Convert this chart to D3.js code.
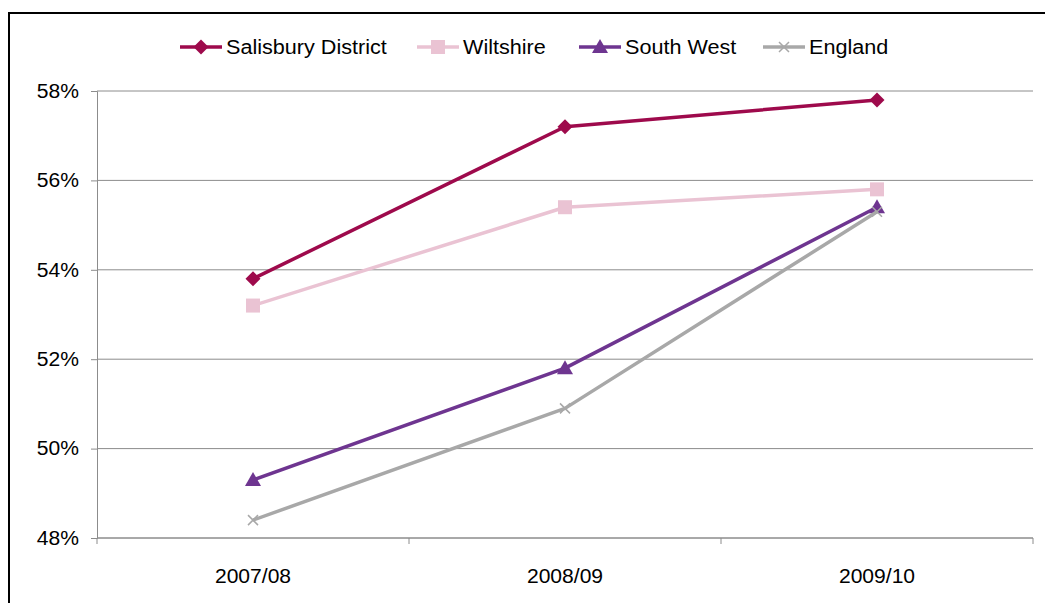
<!DOCTYPE html>
<html>
<head>
<meta charset="utf-8">
<script src="https://cdn.jsdelivr.net/npm/d3@7"></script>
<style>
  html, body { margin: 0; padding: 0; background: #fff; }
  svg { display: block; font-family: "Liberation Sans", Arial, sans-serif; }
</style>
</head>
<body>
<svg id="chart" width="1045" height="603"></svg>
<script>
// Share of residents, by year
const years = ["2007/08", "2008/09", "2009/10"];
const salisbury = [53.8, 57.2, 57.8];
const wiltshire = [53.2, 55.4, 55.8];
const southWest = [49.3, 51.8, 55.4];
const england = [48.4, 50.9, 55.3];
const yTicks = [48, 50, 52, 54, 56, 58];

const series = [
  { name: "Salisbury District", values: salisbury, color: "#9E0A4C", marker: "diamond" },
  { name: "Wiltshire", values: wiltshire, color: "#EAC3D3", marker: "square" },
  { name: "South West", values: southWest, color: "#6E3590", marker: "triangle" },
  { name: "England", values: england, color: "#A8A8A8", marker: "cross" }
];

const svg = d3.select("#chart");
const TEXT_STRETCH = 1.08;
const FONT_SIZE = 19.5;

// outer frame
svg.append("rect")
  .attr("x", 9).attr("y", 13).attr("width", 1045).attr("height", 603)
  .attr("fill", "none").attr("stroke", "#000").attr("stroke-width", 2);

const plot = { left: 97, right: 1033, top: 91, bottom: 538 };

const x = d3.scaleBand().domain(years).range([plot.left, plot.right]).padding(0);
const y = d3.scaleLinear().domain([48, 58]).range([plot.bottom, plot.top]);

// horizontal gridlines
svg.append("g")
  .selectAll("line")
  .data(yTicks)
  .join("line")
  .attr("x1", plot.left).attr("x2", plot.right)
  .attr("y1", d => y(d)).attr("y2", d => y(d))
  .attr("stroke", "#8c8c8c").attr("stroke-width", 1);

// y axis
const yAxis = svg.append("g")
  .attr("transform", `translate(${plot.left},0)`)
  .call(d3.axisLeft(y).tickValues(yTicks).tickFormat(d => d + "%").tickSize(6).tickPadding(12));
yAxis.select(".domain").attr("stroke", "#8c8c8c");
yAxis.selectAll(".tick line").attr("stroke", "#8c8c8c");
yAxis.selectAll(".tick text")
  .attr("font-size", FONT_SIZE).attr("fill", "#000")
  .attr("font-family", "Liberation Sans, Arial, sans-serif");

// x axis
const xAxis = svg.append("g")
  .attr("transform", `translate(0,${plot.bottom})`)
  .call(d3.axisBottom(x).tickSize(0).tickPadding(31));
xAxis.select(".domain").attr("stroke", "#8c8c8c").attr("d", `M${plot.left},0H${plot.right}`);
xAxis.selectAll(".tick text")
  .attr("font-size", FONT_SIZE).attr("fill", "#000")
  .attr("font-family", "Liberation Sans, Arial, sans-serif");
// category boundary ticks
svg.append("g")
  .selectAll("line")
  .data(years.map(d => x(d)).concat([x(years[years.length - 1]) + x.bandwidth()]))
  .join("line")
  .attr("x1", d => d).attr("x2", d => d)
  .attr("y1", plot.bottom).attr("y2", plot.bottom + 6)
  .attr("stroke", "#8c8c8c");

const cx = d => x(d) + x.bandwidth() / 2;

function drawMarker(g, type, color) {
  if (type === "diamond") {
    g.append("path").attr("d", "M0,-7.5L7.5,0L0,7.5L-7.5,0Z").attr("fill", color);
  } else if (type === "square") {
    g.append("rect").attr("x", -7).attr("y", -7).attr("width", 14).attr("height", 14).attr("fill", color);
  } else if (type === "triangle") {
    g.append("path").attr("d", "M0,-8L8,6L-8,6Z").attr("fill", color);
  } else {
    g.append("path").attr("d", "M-5,-5L5,5M-5,5L5,-5").attr("stroke", color).attr("stroke-width", 1.5).attr("fill", "none");
  }
}

const line = d3.line().x(d => cx(d.year)).y(d => y(d.value));

series.forEach(s => {
  const pts = s.values.map((v, i) => ({ year: years[i], value: v }));
  const g = svg.append("g");
  g.append("path").datum(pts)
    .attr("d", line)
    .attr("fill", "none").attr("stroke", s.color).attr("stroke-width", 3.5)
    .attr("stroke-linejoin", "round");
  pts.forEach(p => {
    const m = g.append("g").attr("transform", `translate(${cx(p.year)},${y(p.value)})`);
    drawMarker(m, s.marker, s.color);
  });
});

// legend
const legendX = [180, 417, 579, 763];
const legend = svg.append("g").attr("transform", "translate(0,47)");
series.forEach((s, i) => {
  const g = legend.append("g").attr("transform", `translate(${legendX[i]},0)`);
  g.append("line").attr("x1", 0).attr("x2", 42).attr("y1", 0).attr("y2", 0)
    .attr("stroke", s.color).attr("stroke-width", 3.5);
  const m = g.append("g").attr("transform", "translate(21,0)");
  drawMarker(m, s.marker, s.color);
  g.append("text").attr("class", "legend-label").attr("x", 46).attr("y", 0).attr("dy", "0.35em")
    .attr("font-size", 20).attr("fill", "#000").text(s.name);
});

// the lettering in this chart is set slightly wide
svg.selectAll("text").each(function () {
  const len = this.getComputedTextLength();
  d3.select(this).attr("textLength", len * TEXT_STRETCH).attr("lengthAdjust", "spacingAndGlyphs");
});
</script>
</body>
</html>
